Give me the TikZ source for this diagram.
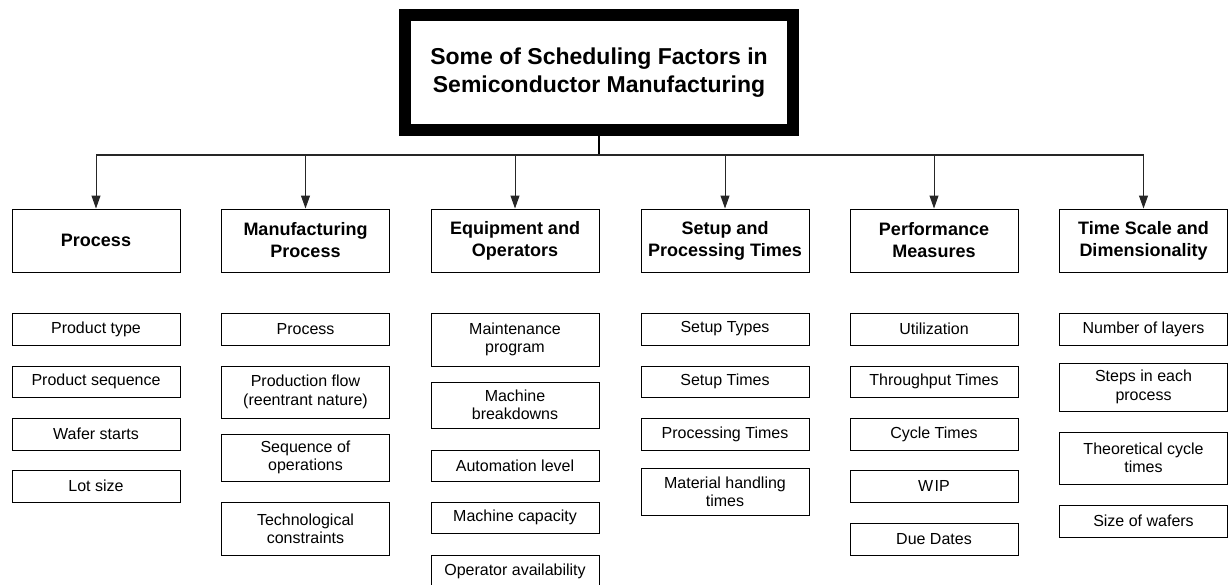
\documentclass[tikz,border=0pt]{standalone}
\usepackage{fontspec}
\setmainfont{Liberation Sans}
\usetikzlibrary{arrows.meta}
\begin{document}
\begin{tikzpicture}[x=1pt,y=-1pt,
  titlebox/.style={draw=black, fill=white, line width=12pt, minimum width=388pt, minimum height=115pt, inner sep=0pt, align=center, font=\fontsize{23}{28}\selectfont\bfseries},
  headbox/.style={draw=black, line width=1pt, minimum width=168pt, minimum height=63pt, inner sep=0pt, align=center, font=\fontsize{18}{22}\selectfont\bfseries},
  itembox/.style={draw=black, line width=1pt, minimum width=168pt, inner sep=0pt, align=center, font=\fontsize{16}{18.4}\selectfont},
  conn/.style={draw=black!85, line width=1pt},
  arr/.style={conn, -{Triangle[length=13pt,width=9pt]}}
]
\useasboundingbox (0,0) rectangle (1228,584);

\node[titlebox] (top) at (599,72.5) {Some of Scheduling Factors in\\Semiconductor Manufacturing};
\coordinate (bus) at (599,155);

\node[headbox] (h1) at (96,240.5) {Process};
\node[headbox] (h2) at (305.5,240.5) {Manufacturing\\Process};
\node[headbox] (h3) at (515,240.5) {Equipment and\\Operators};
\node[headbox] (h4) at (725,240.5) {Setup and\\Processing Times};
\node[headbox] (h5) at (934,240.5) {Performance\\Measures};
\node[headbox] (h6) at (1143.5,240.5) {Time Scale and\\Dimensionality};

\draw[conn, draw=black, line width=1.4pt] (top.south) -- (bus);
\draw[conn, line width=1.2pt] (h1.north |- bus) -- (h6.north |- bus);
\foreach \h in {h1,h2,h3,h4,h5,h6}{
  \draw[arr] (\h.north |- bus) -- (\h.north);
}

% Column 1
\node[itembox, minimum height=32pt] (a1) at (96,329) {Product type};
\node[itembox, minimum height=31pt] (a2) at (96,381.5) {Product sequence};
\node[itembox, minimum height=32pt] (a3) at (96,434) {Wafer starts};
\node[itembox, minimum height=32pt] (a4) at (96,486) {Lot size};

% Column 2
\node[itembox, minimum height=32pt] (b1) at (305.5,329) {Process};
\node[itembox, minimum height=52pt] (b2) at (305.5,392) {Production flow\\(reentrant nature)};
\node[itembox, minimum height=47pt] (b3) at (305.5,457.5) {Sequence of\\operations};
\node[itembox, minimum height=53pt] (b4) at (305.5,528.5) {Technological\\constraints};

% Column 3
\node[itembox, minimum height=53pt] (c1) at (515,339.5) {Maintenance\\program};
\node[itembox, minimum height=46pt] (c2) at (515,405) {Machine\\breakdowns};
\node[itembox, minimum height=31pt] (c3) at (515,465.5) {Automation level};
\node[itembox, minimum height=31pt] (c4) at (515,517.5) {Machine capacity};
\node[itembox, minimum height=32pt] (c5) at (515,571.5) {Operator availability};

% Column 4
\node[itembox, minimum height=32pt] (d1) at (725,329) {Setup Types};
\node[itembox, minimum height=31pt] (d2) at (725,381.5) {Setup Times};
\node[itembox, minimum height=32pt] (d3) at (725,434) {Processing Times};
\node[itembox, minimum height=47pt] (d4) at (725,491.5) {Material handling\\times};

% Column 5
\node[itembox, minimum height=32pt] (e1) at (934,329) {Utilization};
\node[itembox, minimum height=31pt] (e2) at (934,381.5) {Throughput Times};
\node[itembox, minimum height=32pt] (e3) at (934,434) {Cycle Times};
\node[itembox, minimum height=32pt] (e4) at (934,486) {W\kern1.5pt IP};
\node[itembox, minimum height=32pt] (e5) at (934,539) {Due Dates};

% Column 6
\node[itembox, minimum height=32pt] (f1) at (1143.5,329) {Number of layers};
\node[itembox, minimum height=48pt] (f2) at (1143.5,387) {Steps in each\\process};
\node[itembox, minimum height=52pt] (f3) at (1143.5,458) {Theoretical cycle\\times};
\node[itembox, minimum height=32pt] (f4) at (1143.5,521) {Size of wafers};
\end{tikzpicture}
\end{document}
